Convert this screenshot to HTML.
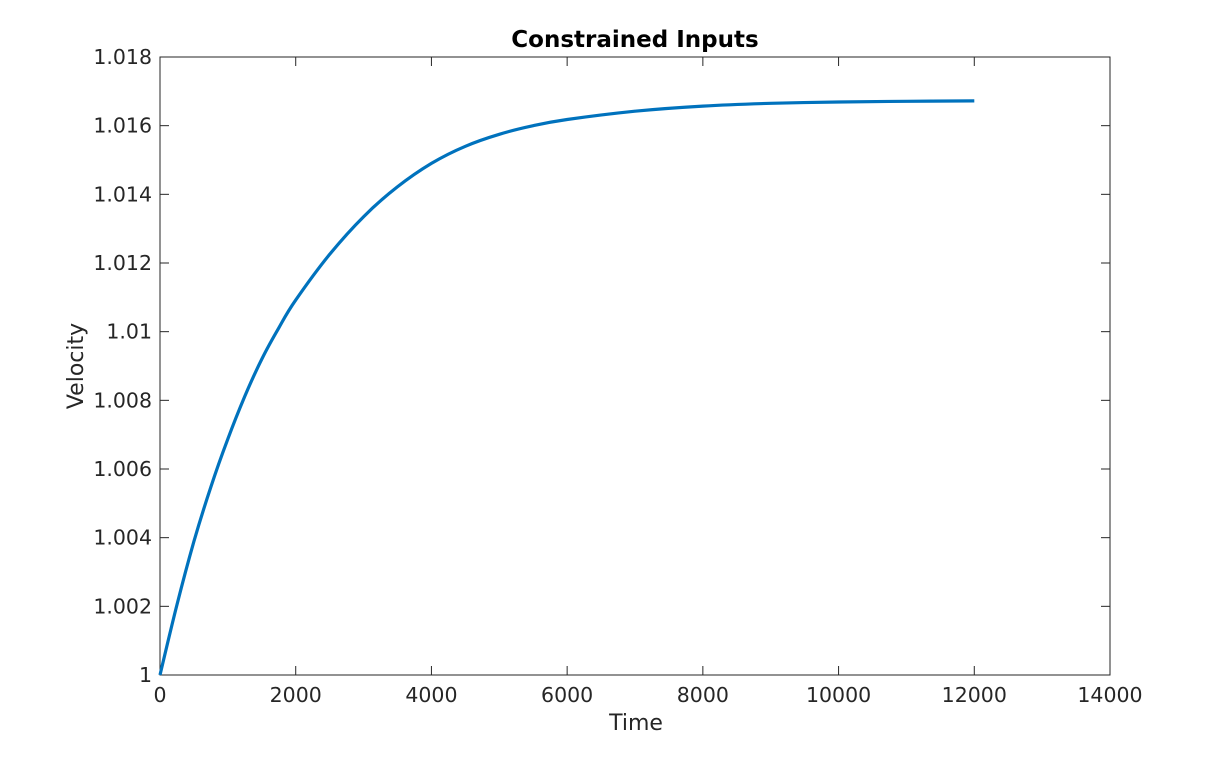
<!DOCTYPE html>
<html><head><meta charset="utf-8"><style>
body{margin:0;background:#fff;}
svg text{font-family:"DejaVu Sans","Liberation Sans",sans-serif;fill:#262626;}
</style></head><body>
<svg width="1228" height="760">
<rect x="0" y="0" width="1228" height="760" fill="#fff"/>
<g id="axes"></g>
<path id="curve" fill="none" stroke="#0072BD" stroke-width="3.2" stroke-linejoin="round"/>
<text x="635" y="47" text-anchor="middle" font-size="23" font-weight="bold" style="fill:#000">Constrained Inputs</text>
<text x="636" y="730" text-anchor="middle" font-size="22">Time</text>
<text transform="translate(83,366) rotate(-90)" text-anchor="middle" font-size="22">Velocity</text>
</svg>
<script>
const times=[0,250,500,750,1000,1250,1500,1750,2000,2500,3000,3500,4000,4500,5000,5500,6000,7000,8000,9000,10000,11000,12000];
const velocity=[1.0,1.00205,1.00389,1.00548,1.00688,1.00812,1.00920,1.01011,1.01092,1.01225,1.01335,1.01422,1.01490,1.01540,1.01575,1.01600,1.01618,1.01642,1.01657,1.01665,1.01669,1.01671,1.01672];
const xTicks=[0,2000,4000,6000,8000,10000,12000,14000];
const yTicks=[1,1.002,1.004,1.006,1.008,1.01,1.012,1.014,1.016,1.018];
const yLabels=["1","1.002","1.004","1.006","1.008","1.01","1.012","1.014","1.016","1.018"];
const L=160,R=1110,T=57,B=675;
const xs=v=>L+(v-0)/14000*(R-L);
const ys=v=>B-(v-1)/0.018*(B-T);
const NS="http://www.w3.org/2000/svg";
const g=document.getElementById('axes');
function mk(tag,attrs){const e=document.createElementNS(NS,tag);for(const k in attrs)e.setAttribute(k,attrs[k]);g.appendChild(e);return e;}
const box=mk('rect',{x:L,y:T,width:R-L,height:B-T,fill:'none',stroke:'#262626','stroke-width':1});


xTicks.forEach(v=>{
 const x=xs(v);
 mk('line',{x1:x,x2:x,y1:B,y2:B-9,stroke:'#262626'});
 mk('line',{x1:x,x2:x,y1:T,y2:T+9,stroke:'#262626'});
 const t=mk('text',{x:x,y:B+27,'text-anchor':'middle','font-size':20.5});
 t.textContent=v;
 
 
});
yTicks.forEach((v,i)=>{
 const y=ys(v);
 mk('line',{x1:L,x2:L+9,y1:y,y2:y,stroke:'#262626'});
 mk('line',{x1:R,x2:R-9,y1:y,y2:y,stroke:'#262626'});
 const t=mk('text',{x:L-8,y:y+7,'text-anchor':'end','font-size':20.5});
 t.textContent=yLabels[i];
 
 
});
const P=times.map((t,i)=>[xs(t),ys(velocity[i])]);
let d='M'+P[0][0].toFixed(1)+' '+P[0][1].toFixed(1);
for(let i=0;i<P.length-1;i++){
 const p0=P[Math.max(i-1,0)],p1=P[i],p2=P[i+1],p3=P[Math.min(i+2,P.length-1)];
 const c1=[p1[0]+(p2[0]-p0[0])/6,p1[1]+(p2[1]-p0[1])/6];
 const c2=[p2[0]-(p3[0]-p1[0])/6,p2[1]-(p3[1]-p1[1])/6];
 d+='C'+c1.map(v=>v.toFixed(1)).join(' ')+' '+c2.map(v=>v.toFixed(1)).join(' ')+' '+p2[0].toFixed(1)+' '+p2[1].toFixed(1);
}
document.getElementById('curve').setAttribute('d',d);
</script>
</body></html>
